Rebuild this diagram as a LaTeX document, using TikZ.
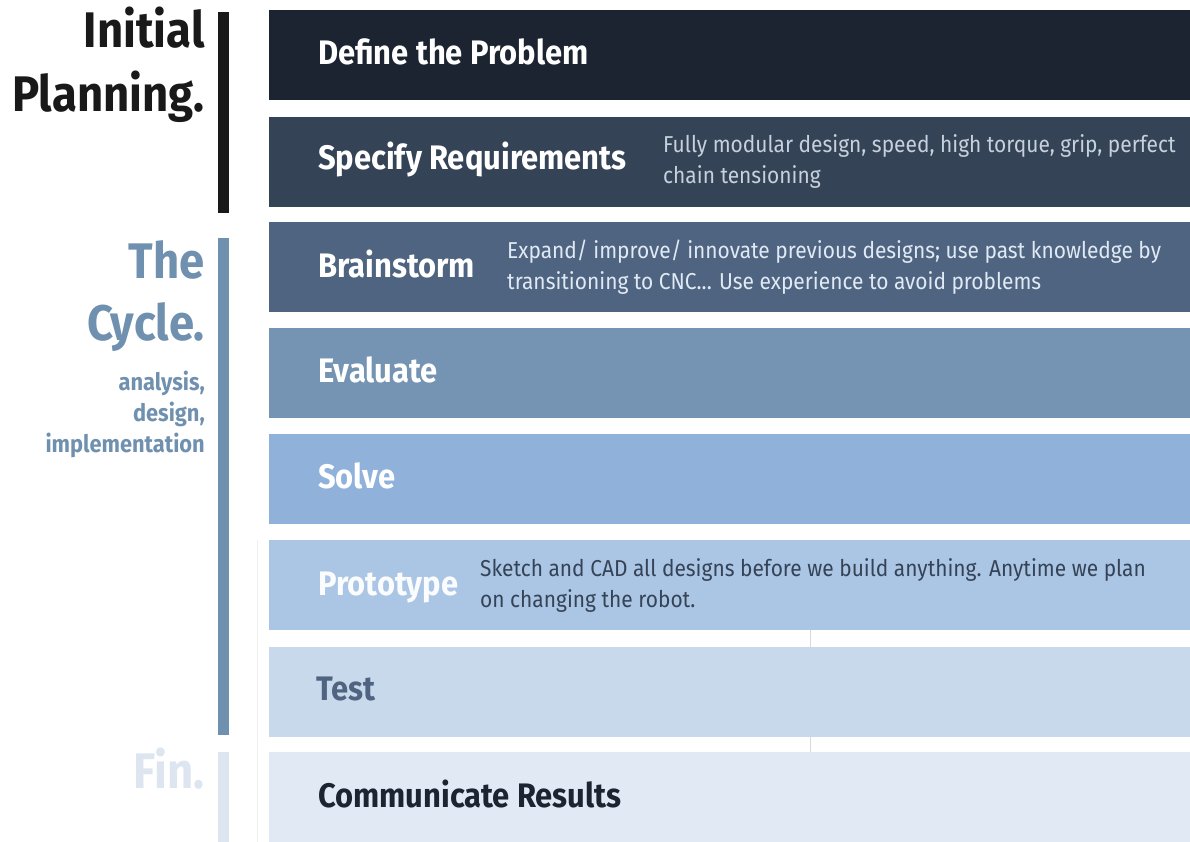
\documentclass[tikz,border=0pt]{standalone}
\usepackage{fontspec}
\setmainfont{Fira Sans}[FakeStretch=0.91]
\usetikzlibrary{positioning}
\definecolor{phaseA}{HTML}{1B2430}
\definecolor{phaseB}{HTML}{354357}
\definecolor{phaseC}{HTML}{4E6480}
\definecolor{phaseD}{HTML}{7593B2}
\definecolor{phaseE}{HTML}{90B2DA}
\definecolor{phaseF}{HTML}{ABC6E4}
\definecolor{phaseG}{HTML}{C8D9EB}
\definecolor{phaseH}{HTML}{E1EAF4}
\definecolor{cycleblue}{HTML}{7090B0}
\definecolor{finblue}{HTML}{DCE5F0}

\begin{document}
\begin{tikzpicture}[x=1pt, y=-1pt,
  bar/.style={anchor=north west, minimum width=921pt, minimum height=90pt, inner sep=0pt, outer sep=0pt},
  steplabel/.style={anchor=west, inner sep=0pt, font=\fontsize{34}{36}\selectfont\bfseries},
  stepnote/.style={anchor=west, inner sep=0pt, align=left, font=\fontsize{23}{31}\selectfont},
  phase/.style={anchor=base east, inner sep=0pt, align=right, font=\fontsize{50}{62}\selectfont\bfseries},
  phasebar/.style={anchor=north west, minimum width=11pt, inner sep=0pt, outer sep=0pt}]
\useasboundingbox (0,0) rectangle (1190,842);
% faint slide guides behind the lower rows
\draw[black!6] (257,540) -- (257,842);
\draw[black!15] (810,630) -- (810,842);
% the eight phase bars
\node[bar, fill=phaseA] (define) at (269,10) {};
\node[bar, fill=phaseB] (specify) at (269,117) {};
\node[bar, fill=phaseC] (brainstorm) at (269,222) {};
\node[bar, fill=phaseD] (evaluate) at (269,328) {};
\node[bar, fill=phaseE] (solve) at (269,434) {};
\node[bar, fill=phaseF] (prototype) at (269,540) {};
\node[bar, fill=phaseG] (test) at (269,647) {};
\node[bar, fill=phaseH] (communicate) at (269,752) {};
% step names
\node[steplabel, white] (defineT) at ([xshift=49pt,yshift=3pt]define.west) {Define the Problem};
\node[steplabel, white] (specifyT) at ([xshift=49pt,yshift=3pt]specify.west) {Specify Requirements};
\node[steplabel, white] (brainstormT) at ([xshift=49pt,yshift=3pt]brainstorm.west) {Brainstorm};
\node[steplabel, white] (evaluateT) at ([xshift=49pt,yshift=3pt]evaluate.west) {Evaluate};
\node[steplabel, white] (solveT) at ([xshift=49pt,yshift=3pt]solve.west) {Solve};
\node[steplabel, white!95!phaseF] (prototypeT) at ([xshift=49pt,yshift=-2pt]prototype.west) {Prototype};
\node[steplabel, phaseC] (testT) at ([xshift=47pt,yshift=3pt]test.west) {Test};
\node[steplabel, phaseA] (communicateT) at ([xshift=49pt,yshift=3pt]communicate.west) {Communicate Results};
% notes beside some steps
\node[stepnote, phaseH!85!phaseB] (specifyN) at (663,161) {Fully modular design, speed, high torque, grip, perfect\\chain tensioning};
\node[stepnote, phaseH] (brainstormN) at (507,267) {Expand/ improve/ innovate previous designs; use past knowledge by\\transitioning to CNC... Use experience to avoid problems};
\node[stepnote, phaseB] (prototypeN) at (480,585) {Sketch and CAD all designs before we build anything. Anytime we plan\\on changing the robot.};
% phase headings on the left
\node[phase, black!90] (initial) at (205,48) {Initial};
\node[phase, black!90] (planning) at (205,112) {Planning.};
\node[phase, cycleblue] (the) at (205,278) {The};
\node[phase, cycleblue] (cycle) at (205,340) {Cycle.};
\node[phase, cycleblue, font=\fontsize{24}{31}\selectfont\bfseries] (cyclesub) at (205,452) {analysis,\\design,\\implementation};
\node[phase, finblue] (fin) at (205,788) {Fin.};
\node[phasebar, fill=black!90, minimum height=201pt] (planbar) at (218,12) {};
\node[phasebar, fill=cycleblue, minimum height=497pt] (cyclebar) at (218,238) {};
\node[phasebar, fill=finblue, minimum height=90pt] (finbar) at (218,752) {};
\end{tikzpicture}
\end{document}
